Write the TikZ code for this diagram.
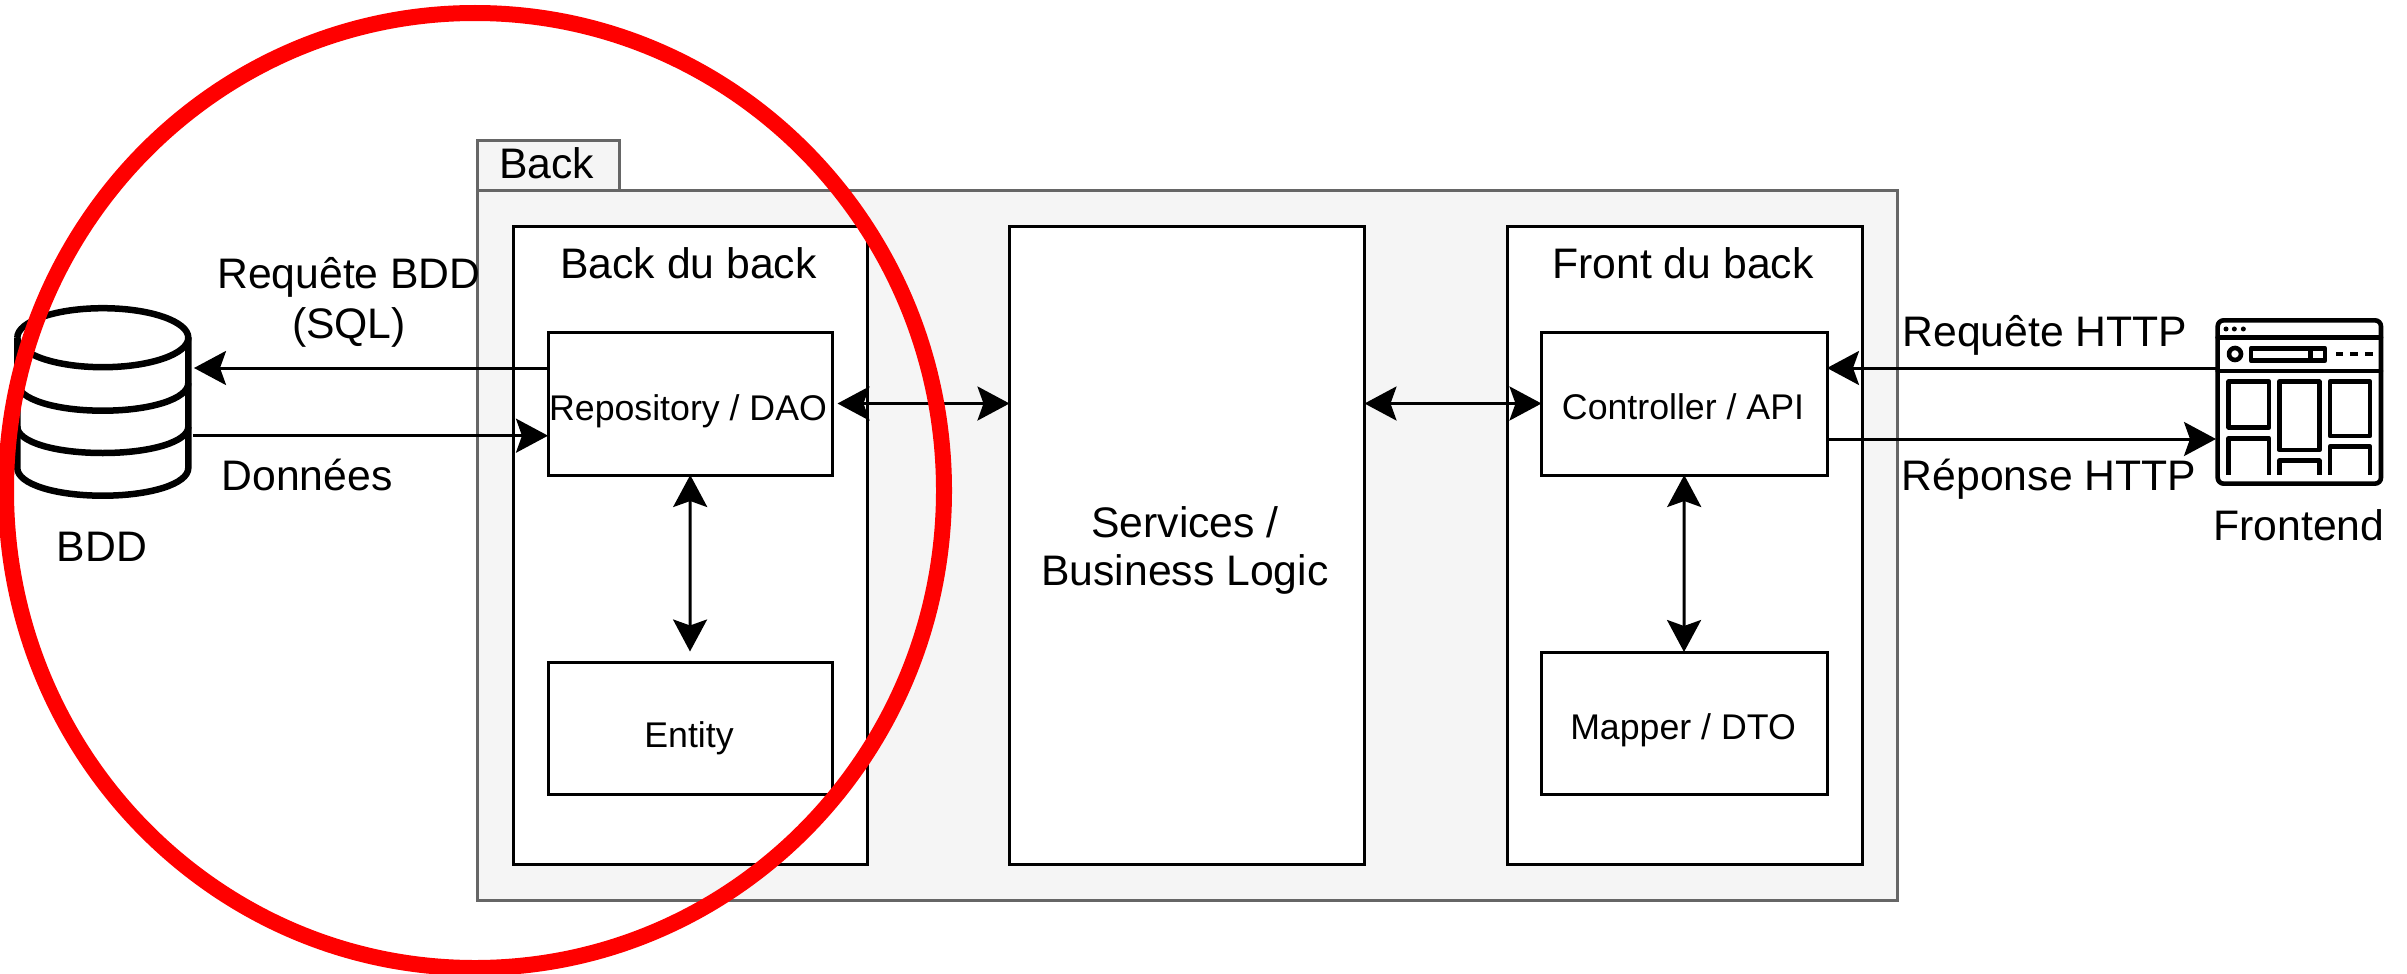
\documentclass[tikz,border=0pt]{standalone}
\usepackage{fontspec}
\setmainfont{Liberation Sans}
\usetikzlibrary{arrows.meta,calc,shapes.geometric}
\definecolor{backfill}{HTML}{F5F5F5}
\definecolor{backline}{HTML}{666666}
\tikzset{
  x=1pt,y=-1pt,
  boxstyle/.style={draw=black,fill=white,line width=3pt,inner sep=0pt,outer sep=0pt,anchor=north west},
  backstyle/.style={draw=backline,fill=backfill,line width=3pt,inner sep=0pt,outer sep=0pt,anchor=north west},
  big/.style={font=\fontsize{42.7}{50}\selectfont,inner sep=0pt,anchor=base,align=center},
  small/.style={font=\fontsize{35.7}{42}\selectfont,inner sep=0pt,anchor=base,align=center},
  tipped/.style={line width=3pt,-{Stealth[length=32pt,width=34pt,inset=6pt]}},
  dbltipped/.style={line width=3pt,{Stealth[length=32pt,width=34pt,inset=6pt]}-{Stealth[length=32pt,width=34pt,inset=6pt]}},
  iconline/.style={line width=4.6pt,line join=round,line cap=round},
  dbline/.style={line width=6.5pt,line join=round},
}
\begin{document}
\begin{tikzpicture}
\useasboundingbox (0,0) rectangle (2407,974);
% container
\node[backstyle,minimum width=1420pt,minimum height=710pt] (back) at (477.5,190.5) {};
\node[backstyle,minimum width=142pt,minimum height=50pt] (tab) at (477.5,140.5) {};
\node[big] (backlabel) at (546.5,178) {Back};
% boxes
\node[boxstyle,minimum width=354pt,minimum height=638pt] (bdb) at (513,226) {};
\node[boxstyle,minimum width=355pt,minimum height=638pt] (svc) at (1009.5,226) {};
\node[boxstyle,minimum width=355pt,minimum height=638pt] (fdb) at (1507,226) {};
\node[boxstyle,minimum width=284.5pt,minimum height=143pt] (repo) at (548,332) {};
\node[boxstyle,minimum width=284.5pt,minimum height=132pt] (entity) at (548,662) {};
\node[boxstyle,minimum width=285.5pt,minimum height=143pt] (ctrl) at (1541.5,332) {};
\node[boxstyle,minimum width=285.5pt,minimum height=142pt] (mapper) at (1541.5,652) {};
% labels
\node[big] (bdbl) at (688.5,278) {Back du back};
\node[big] (fdbl) at (1683,278) {Front du back};
\node[small] (repol) at (688,420) {Repository / DAO};
\node[small] (entl) at (689,747) {Entity};
\node[small] (ctrll) at (1683,419) {Controller / API};
\node[small] (mapl) at (1683,739) {Mapper / DTO};
\node[big] (svcl1) at (1185,537) {Services /};
\node[big] (svcl2) at (1185,585) {Business Logic};
\node[big] (reql1) at (349,288) {Requête BDD};
\node[big] (reql2) at (349,338) {(SQL)};
\node[big] (donl) at (307,490) {Données};
\node[big] (bddl) at (102,561) {BDD};
\node[big] (reqh) at (2045,346) {Requête HTTP};
\node[big] (reph) at (2049,490) {Réponse HTTP};
\node[big] (frontl) at (2299,540) {Frontend};
% database icon
\draw[dbline] (17.3,337.7) arc[x radius=85.5,y radius=29.5,start angle=180,end angle=-180];
\draw[dbline] (17.3,337.7) -- (17.3,468) .. controls (17.3,484) and (55,495.7) .. (102.8,495.7) .. controls (150,495.7) and (188.3,484) .. (188.3,468) -- (188.3,337.7);
\draw[dbline] (17.3,383) .. controls (17.3,399) and (55,410.7) .. (102.8,410.7) .. controls (150,410.7) and (188.3,399) .. (188.3,383);
\draw[dbline] (17.3,426.7) .. controls (17.3,442) and (55,453) .. (102.8,453) .. controls (150,453) and (188.3,442) .. (188.3,426.7);
\coordinate (dbin) at (194,368);
\coordinate (dbout) at (193,435.7);
% frontend icon
\coordinate (fein) at (2216,368);
\coordinate (feout) at (2216,439);
\begin{scope}[shift={(2180,290)},x=0.3333pt,y=-0.3333pt]
\draw[iconline,rounded corners=6pt] (113,91) rectangle (603,581);
\draw[iconline] (113,143) -- (603,143);
\draw[iconline] (113,243) -- (603,243);
\fill (138,117) circle[radius=2.5pt] (163,117) circle[radius=2.5pt] (190,117) circle[radius=2.5pt];
\draw[iconline] (165,192) circle[radius=6pt];
\draw[iconline] (213,175) rectangle (435,212);
\draw[iconline] (392,175) -- (392,212);
\draw[line width=4.6pt] (468,192) -- (490,192) (510,192) -- (535,192) (555,192) -- (578,192);
\draw[iconline] (146,275) rectangle (267,412);
\draw[iconline] (298,275) rectangle (418,480);
\draw[iconline] (450,275) rectangle (570,438);
\draw[iconline,line cap=butt] (146,555) -- (146,445) -- (267,445) -- (267,555);
\draw[iconline,line cap=butt] (298,555) -- (298,512) -- (418,512) -- (418,555);
\draw[iconline,line cap=butt] (450,555) -- (450,470) -- (570,470) -- (570,555);
\end{scope}
% connectors
\coordinate (entitytip) at (690,651.5);
\coordinate (mappertip) at (1684,652);
\draw[tipped] (repo.west |- dbin) -- (dbin);
\draw[tipped] (dbout) -- (repo.west |- dbout);
\draw[dbltipped,shorten <=5pt] (repo.east) -- (svc.west |- repo.east);
\draw[dbltipped] (svc.east |- ctrl.west) -- (ctrl.west);
\draw[dbltipped] (repo.south) -- (entitytip);
\draw[dbltipped] (ctrl.south) -- (mappertip);
\draw[tipped] (fein) -- (ctrl.east |- fein);
\draw[tipped] (ctrl.east |- feout) -- (feout);
% red ring
\draw[draw=red,line width=16pt] (475,490.5) ellipse[x radius=469,y radius=477.5];
\end{tikzpicture}
\end{document}
